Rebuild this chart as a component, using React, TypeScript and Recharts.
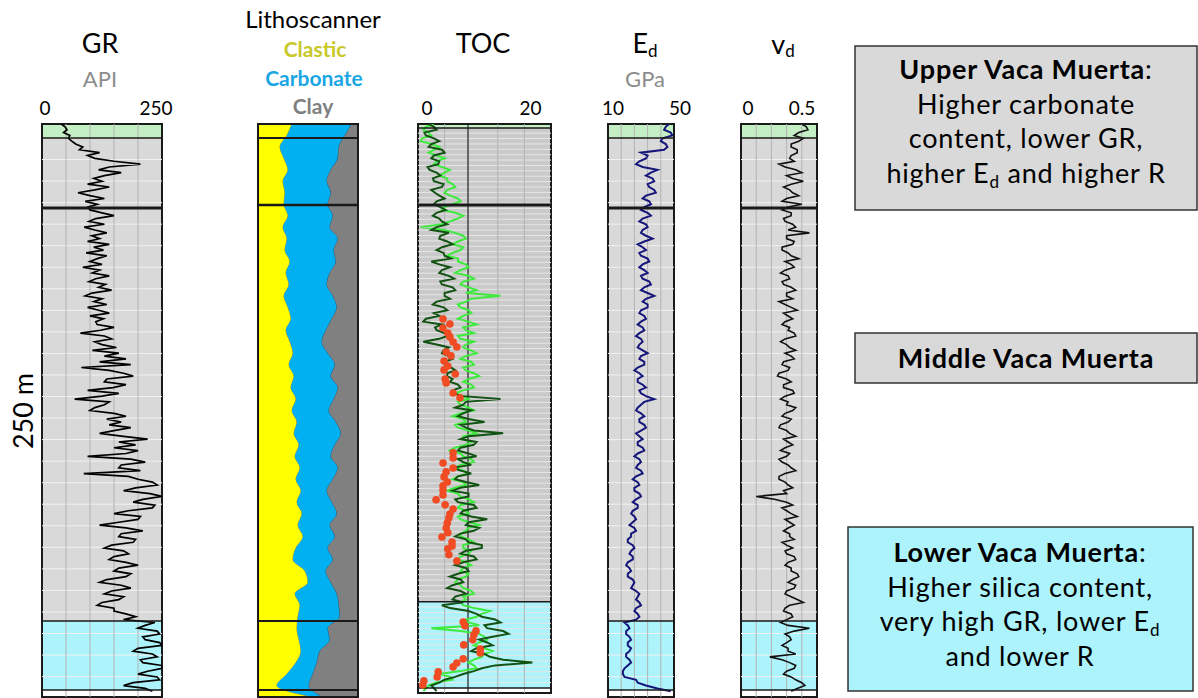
import React from 'react';
import {
  ComposedChart,
  Line,
  Area,
  XAxis,
  YAxis,
  ReferenceArea,
  ReferenceLine,
} from 'recharts';

const FONT = "Lato, 'Open Sans', sans-serif";

// log samples, depth in m below the top of the interval
const LOG_STEP = 1.25;
const LITHO_STEP = 5;

const GR_API = [
  40, 48, 52, 45, 58, 55, 62, 70, 85, 78,
  120, 95, 110, 150, 205, 140, 118, 165, 130, 108,
  125, 95, 140, 110, 75, 100, 130, 90, 115, 95,
  100, 125, 150, 112, 98, 130, 88, 110, 135, 104,
  120, 95, 140, 108, 128, 92, 135, 115, 100, 125,
  85, 120, 105, 140, 112, 98, 132, 118, 145, 104,
  90, 125, 108, 135, 95, 118, 140, 100, 128, 112,
  115, 150, 122, 80, 130, 145, 110, 125, 155, 105,
  160, 130, 175, 120, 185, 82, 140, 170, 190, 135,
  130, 175, 148, 95, 160, 125, 68, 140, 130, 110,
  100, 150, 175, 135, 165, 140, 185, 150, 120, 170,
  220, 160, 195, 150, 200, 175, 95, 185, 215, 165,
  160, 205, 87, 180, 200, 230, 240, 195, 170, 225,
  250, 210, 190, 235, 230, 180, 150, 205, 200, 160,
  120, 175, 210, 165, 160, 195, 190, 145, 130, 170,
  180, 150, 140, 175, 200, 160, 150, 185, 175, 135,
  120, 165, 185, 145, 130, 170, 160, 125, 115, 150,
  150, 175, 195, 170, 235, 215, 200, 240, 245, 210,
  215, 245, 250, 200, 190, 230, 240, 205, 210, 250,
  250, 220, 200, 240, 245, 190, 170, 215, 230,
];

// Lithoscanner fractions, %
const CLASTIC = [
  34, 29, 22, 26, 30, 25, 27, 26, 30, 25, 29, 27, 32, 28, 31, 26, 30, 33, 28, 32,
  35, 31, 36, 33, 38, 34, 39, 36, 41, 37, 42, 38, 43, 39, 44, 40, 45, 38, 35, 47,
  50, 37, 42, 40, 39, 41, 43, 38, 29, 19, 55,
];
const CARBONATE = [
  60, 58, 59, 54, 43, 44, 46, 44, 45, 47, 51, 49, 46, 44, 38, 49, 49, 41, 40, 32,
  35, 46, 37, 47, 38, 37, 39, 47, 36, 36, 38, 37, 26, 35, 35, 32, 32, 32, 40, 21,
  23, 42, 39, 42, 31, 31, 19, 21, 26, 32, 10,
];
const CLAY = [
  6, 13, 19, 20, 27, 31, 27, 30, 25, 28, 20, 24, 22, 28, 31, 25, 21, 26, 32, 36,
  30, 23, 27, 20, 24, 29, 22, 17, 23, 27, 20, 25, 31, 26, 21, 28, 23, 30, 25, 32,
  27, 21, 19, 18, 30, 28, 38, 41, 45, 49, 35,
];

// TOC, wt%
const TOC_DARK = [
  2.0, 3.0, 3.5, 1.2, 1.5, 3.0, 4.0, 2.5, 2.0, 4.5,
  5.0, 3.0, 2.5, 4.0, 3.8, 1.8, 2.2, 3.5, 4.2, 2.8,
  3.0, 4.8, 4.5, 2.5, 3.2, 4.0, 5.0, 3.5, 3.0, 4.2,
  5.2, 3.5, 2.8, 4.0, 4.5, 5.5, 3.5, 2.5, 5.8, 4.2,
  4.0, 5.5, 6.5, 4.5, 3.5, 4.8, 5.0, 6.2, 2.5, 4.0,
  6.0, 4.5, 4.0, 5.8, 6.8, 4.2, 4.5, 6.5, 7.0, 5.0,
  5.0, 6.0, 3.5, 2.8, 4.8, 5.5, 3.0, 4.0, 1.5, 1.0,
  4.5, 3.2, 3.5, 5.0, 5.5, 4.0, 1.0, 3.5, 5.8, 4.8,
  4.5, 5.8, 6.5, 5.0, 5.0, 6.2, 7.0, 5.5, 5.5, 6.5,
  6.0, 7.5, 8.0, 6.5, 6.5, 8.5, 15.5, 9.0, 8.5, 7.0,
  10.0, 8.5, 7.5, 9.5, 12.5, 8.0, 9.0, 10.5, 16.0, 9.5,
  8.0, 11.0, 10.5, 8.0, 7.5, 9.5, 11.0, 7.5, 8.5, 10.0,
  6.5, 8.0, 10.0, 7.5, 7.0, 9.0, 11.5, 8.0, 6.5, 9.5,
  9.5, 7.0, 7.5, 10.5, 11.0, 8.5, 8.0, 10.0, 13.0, 9.5,
  9.0, 11.5, 10.5, 8.0, 7.0, 9.0, 9.5, 12.0, 12.0, 9.0,
  8.0, 10.5, 11.0, 8.5, 7.0, 9.0, 9.5, 7.5, 6.0, 8.0,
  8.5, 6.5, 5.5, 8.0, 9.0, 7.0, 6.5, 8.5, 4.5, 6.0,
  9.5, 11.0, 12.0, 14.5, 15.5, 12.5, 13.0, 16.0, 17.0, 14.0,
  11.5, 13.0, 14.0, 11.0, 10.0, 12.5, 13.5, 16.0, 21.5, 14.5,
  12.0, 10.5, 8.5, 7.0, 5.0, 4.0, 2.5, 3.0, 3.5,
];
const TOC_LIGHT = [
  3.0, 1.5, 1.0, 2.0, 2.5, 0.8, 0.5, 2.5, 4.0, 3.0,
  2.0, 3.5, 5.0, 3.5, 3.0, 4.5, 6.0, 5.0, 4.0, 5.5,
  5.5, 6.5, 7.0, 5.5, 5.0, 6.0, 7.5, 8.0, 6.5, 5.0,
  4.5, 7.0, 8.5, 7.5, 6.0, 4.5, 0.5, 5.0, 7.0, 8.5,
  9.0, 7.5, 6.5, 8.5, 8.0, 6.5, 5.5, 7.5, 7.5, 9.0,
  9.5, 8.0, 7.0, 9.5, 10.5, 8.5, 8.0, 9.5, 11.0, 9.0,
  15.5, 10.0, 9.0, 7.5, 8.0, 9.5, 10.0, 8.5, 7.5, 9.5,
  11.0, 8.5, 9.0, 10.5, 7.5, 8.0, 10.5, 9.0, 8.5, 10.0,
  11.0, 9.0, 8.0, 10.0, 10.5, 8.5, 9.0, 10.5, 11.5, 9.5,
  8.5, 10.0, 10.5, 8.5, 7.0, 8.5, 9.5, 7.5, 8.0, 9.5,
  10.5, 8.0, 6.5, 8.5, 9.0, 7.0, 7.5, 9.5, 11.0, 8.5,
  8.5, 10.0, 9.0, 7.0, 6.0, 8.0, 8.5, 10.0, 10.5, 8.0,
  7.0, 8.5, 9.5, 7.5, 6.5, 8.5, 9.0, 7.0, 5.5, 7.5,
  8.0, 9.5, 10.5, 8.0, 7.5, 9.0, 9.5, 7.5, 8.0, 9.5,
  11.5, 9.5, 9.0, 8.0, 8.0, 9.5, 10.5, 8.5, 8.5, 10.0,
  9.5, 8.0, 7.5, 9.0, 10.0, 8.5, 8.0, 9.5, 9.0, 7.5,
  7.0, 8.0, 8.5, 10.0, 10.5, 8.5, 9.0, 8.0, 8.5, 10.5,
  13.5, 12.0, 11.0, 9.0, 9.5, 11.5, 2.5, 8.0, 11.5, 12.5,
  13.0, 11.5, 10.5, 12.5, 14.0, 12.5, 12.0, 10.5, 9.5, 10.5,
  11.0, 8.0, 4.0, 6.0, 6.5, 3.5, 2.0, 1.5, 1.0,
];
const CORE_DEPTH = [
  85.1, 87.3, 89.0, 91.2, 92.9, 95.1, 97.3, 99.5, 101.2, 103.4, 105.6, 107.3, 109.1, 111.3,
  113.0, 117.4, 119.5, 143.5, 145.7, 147.9, 150.1, 151.8, 154.0, 156.2, 157.9, 159.7, 161.9,
  164.0, 166.2, 168.0, 170.2, 171.9, 174.1, 176.3, 178.4, 180.2, 182.4, 184.1, 185.4, 188.0,
  190.7, 217.3, 219.0, 221.2, 222.9, 225.1, 227.3, 229.1, 230.8, 233.4, 235.2, 236.9, 239.1,
  241.3, 243.0, 244.8,
];
const CORE_TOC = [
  4.7, 6.0, 4.7, 5.6, 6.0, 6.6, 7.3, 5.3, 6.2, 4.9, 5.6, 4.9, 7.0, 5.1,
  5.3, 6.6, 7.9, 6.6, 6.6, 4.7, 6.6, 5.3, 4.9, 5.5, 4.7, 4.7, 4.7,
  3.4, 5.1, 6.6, 6.0, 5.8, 5.5, 5.3, 5.6, 4.5, 6.4, 6.4, 5.6, 5.8,
  7.3, 8.5, 8.8, 10.9, 10.5, 10.3, 8.6, 11.7, 11.7, 8.5, 7.3, 6.6, 3.8,
  3.6, 1.1, 0.9,
];
const TOC_CUTOFF = 9.4;

// dynamic Young's modulus, GPa
const ED_GPA = [
  47, 45, 44, 48, 49, 43, 42, 45, 46, 44,
  30, 34, 33, 29, 27, 31, 40, 36, 33, 37,
  38, 34, 35, 38, 39, 33, 31, 35, 36, 32,
  30, 34, 36, 31, 29, 33, 34, 31, 30, 33,
  37, 32, 28, 31, 33, 29, 30, 34, 35, 31,
  29, 32, 34, 30, 31, 35, 36, 32, 30, 34,
  38, 33, 31, 34, 34, 30, 29, 32, 33, 30,
  28, 31, 32, 29, 27, 30, 31, 29, 28, 31,
  34, 30, 29, 32, 32, 28, 26, 29, 31, 28,
  28, 31, 33, 29, 30, 33, 38, 32, 30, 28,
  27, 30, 32, 29, 29, 32, 33, 30, 27, 29,
  31, 28, 28, 31, 32, 28, 26, 29, 30, 28,
  27, 30, 31, 27, 25, 28, 29, 26, 26, 29,
  30, 27, 25, 28, 28, 25, 24, 26, 27, 25,
  23, 26, 27, 24, 24, 22, 22, 25, 26, 24,
  23, 25, 25, 22, 21, 23, 24, 22, 22, 25,
  26, 25, 24, 27, 29, 28, 27, 29, 30, 27,
  26, 28, 29, 27, 20, 22, 23, 21, 21, 23,
  24, 22, 22, 24, 23, 21, 21, 23, 24, 22,
  20, 19, 19, 20, 27, 28, 33, 40, 48,
];

// dynamic Poisson's ratio
const VD = [
  0.40, 0.43, 0.44, 0.38, 0.35, 0.41, 0.38, 0.33, 0.33, 0.37,
  0.37, 0.33, 0.32, 0.35, 0.25, 0.29, 0.36, 0.40, 0.30, 0.34,
  0.41, 0.33, 0.28, 0.32, 0.34, 0.38, 0.30, 0.27, 0.40, 0.31,
  0.27, 0.33, 0.33, 0.28, 0.29, 0.34, 0.36, 0.31, 0.45, 0.30,
  0.30, 0.35, 0.34, 0.27, 0.27, 0.31, 0.33, 0.38, 0.29, 0.33,
  0.35, 0.29, 0.26, 0.31, 0.32, 0.27, 0.28, 0.33, 0.36, 0.30,
  0.30, 0.34, 0.25, 0.29, 0.33, 0.37, 0.28, 0.31, 0.34, 0.29,
  0.27, 0.32, 0.31, 0.35, 0.36, 0.29, 0.26, 0.30, 0.32, 0.36,
  0.29, 0.33, 0.35, 0.28, 0.27, 0.32, 0.31, 0.25, 0.24, 0.30,
  0.33, 0.28, 0.28, 0.34, 0.35, 0.29, 0.26, 0.31, 0.30, 0.36,
  0.34, 0.29, 0.27, 0.33, 0.31, 0.26, 0.25, 0.30, 0.32, 0.36,
  0.28, 0.31, 0.34, 0.29, 0.26, 0.32, 0.30, 0.25, 0.27, 0.31,
  0.33, 0.36, 0.29, 0.25, 0.25, 0.29, 0.31, 0.34, 0.28, 0.30,
  0.10, 0.22, 0.30, 0.34, 0.27, 0.30, 0.33, 0.37, 0.29, 0.32,
  0.35, 0.31, 0.28, 0.32, 0.32, 0.35, 0.27, 0.30, 0.34, 0.29,
  0.30, 0.35, 0.36, 0.31, 0.29, 0.33, 0.33, 0.37, 0.38, 0.34,
  0.31, 0.36, 0.35, 0.30, 0.29, 0.33, 0.37, 0.41, 0.32, 0.29,
  0.28, 0.33, 0.34, 0.30, 0.26, 0.31, 0.45, 0.35, 0.29, 0.32,
  0.33, 0.30, 0.27, 0.31, 0.31, 0.36, 0.19, 0.27, 0.32, 0.36,
  0.35, 0.30, 0.28, 0.33, 0.36, 0.40, 0.42, 0.37, 0.33,
];

// zone tops (m)
const BAND_BASE = 6.1;
const UPPER_BASE = 36.6;
const LOWER_TOP = 216.8;
const LOG_BASE = 246.9;
const TRACK_END = 250;
const TOC_BAND_BASE = 1.7;
const TOC_UPPER_BASE = 35.3;
const TOC_LOWER_TOP = 208.5;
const TOC_LOG_BASE = 246.1;
const TOC_END = 248.3;

const GREEN = '#c4efc4';
const GRAY = '#d9d9d9';
const CYAN = '#acf3fb';

const samples = (vals: number[], step: number) => vals.map((v, i) => ({ d: i * step, v }));

const AXIS_H = 34;
const TRACK_TOP = 124;
const SIDE = 22;

type Zone = { from: number; to: number; fill: string };
type Rule = { d: number; w: number };

interface TrackProps {
  left: number;
  width: number;
  height: number;
  depthMax: number;
  domain: [number, number];
  ticks?: number[];
  tickDx?: number[];
  grid?: number[];
  rows?: number[];
  rowColor?: string;
  zones?: Zone[];
  rules: Rule[];
  data?: any[];
  children: React.ReactNode;
}

const Track = ({
  left, width, height, depthMax, domain, ticks = [], tickDx = [], grid = [], rows = [],
  rowColor = '#f2f2f2', zones = [], rules, data, children,
}: TrackProps) => (
  <div style={{ position: 'absolute', left: left - SIDE, top: TRACK_TOP - AXIS_H }}>
    <ComposedChart
      layout="vertical"
      width={width + 2 * SIDE}
      height={height + AXIS_H + 2}
      data={data}
      margin={{ top: 0, right: SIDE, bottom: 2, left: SIDE }}
    >
      <XAxis
        type="number"
        orientation="top"
        domain={domain}
        ticks={ticks}
        interval={0}
        height={AXIS_H}
        axisLine={false}
        tickLine={false}
        allowDataOverflow
        tick={ticks.length ? (p: any) => (
          <text
            x={p.x + (tickDx[p.index] ?? 0)}
            y={AXIS_H - 9}
            textAnchor="middle"
            fontSize={19}
            fontFamily={FONT}
            fill="#000"
          >
            {p.payload.value}
          </text>
        ) : false}
      />
      <YAxis type="number" dataKey="d" domain={[0, depthMax]} hide allowDataOverflow />
      {zones.map((z) => (
        <ReferenceArea key={`z${z.from}`} y1={z.from} y2={z.to} fill={z.fill} fillOpacity={1} stroke="none" />
      ))}
      {rows.map((r) => (
        <ReferenceLine key={`r${r}`} y={r} stroke={rowColor} strokeWidth={1} />
      ))}
      {grid.map((g) => (
        <ReferenceLine key={`g${g}`} x={g} stroke="#b3b3b3" strokeWidth={1} />
      ))}
      {children}
      {rules.map((r) => (
        <ReferenceLine key={`k${r.d}`} y={r.d} stroke="#1a1a1a" strokeWidth={r.w} />
      ))}
      <ReferenceArea
        x1={domain[0]}
        x2={domain[1]}
        y1={0}
        y2={depthMax}
        fill="none"
        stroke="#1a1a1a"
        strokeWidth={2}
      />
    </ComposedChart>
  </div>
);

const stdZones: Zone[] = [
  { from: 0, to: BAND_BASE, fill: GREEN },
  { from: BAND_BASE, to: LOWER_TOP, fill: GRAY },
  { from: LOWER_TOP, to: LOG_BASE, fill: CYAN },
  { from: LOG_BASE, to: TRACK_END, fill: '#ffffff' },
];
const stdRules: Rule[] = [
  { d: BAND_BASE, w: 1.5 },
  { d: UPPER_BASE, w: 3 },
  { d: LOWER_TOP, w: 1.5 },
  { d: LOG_BASE, w: 1.5 },
];
const stdRows: number[] = [];
for (let d = BAND_BASE + 9.4; d < LOG_BASE - 2; d += 9.4) stdRows.push(+d.toFixed(1));
const tocRows: number[] = [];
for (let d = 4; d < TOC_LOG_BASE - 1; d += 2.35) tocRows.push(+d.toFixed(2));

const grData = samples(GR_API, LOG_STEP);
const tocDark = samples(TOC_DARK, LOG_STEP);
const tocLight = samples(TOC_LIGHT, LOG_STEP);
const coreData = CORE_DEPTH.map((d, i) => ({ d, v: CORE_TOC[i] }));
const edData = samples(ED_GPA, LOG_STEP);
const vdData = samples(VD, LOG_STEP);
const lithoData = CLASTIC.map((c, i) => ({
  d: i * LITHO_STEP,
  clastic: c,
  carbonate: CARBONATE[i],
  clay: CLAY[i],
}));

const Box = ({ x, y, w, h, fill }: { x: number; y: number; w: number; h: number; fill: string }) => (
  <rect x={x} y={y} width={w} height={h} fill={fill} stroke="#333" strokeWidth={1.5} />
);

export default function App() {
  return (
    <div
      style={{
        position: 'absolute',
        left: 0,
        top: 0,
        width: 1198,
        height: 698,
        background: '#fff',
        overflow: 'hidden',
        fontFamily: FONT,
      }}
    >
      <svg width={1198} height={698} style={{ position: 'absolute', left: 0, top: 0 }} fontFamily={FONT}>
        <text x={100} y={53} fontSize={27} textAnchor="middle">GR</text>
        <text x={100} y={87} fontSize={22} textAnchor="middle" fill="#8c8c8c">API</text>

        <text x={313} y={28} fontSize={24} textAnchor="middle">Lithoscanner</text>
        <text x={315} y={57} fontSize={21} fontWeight={700} textAnchor="middle" fill="#c8c828">Clastic</text>
        <text x={314} y={86} fontSize={21} fontWeight={700} textAnchor="middle" fill="#1ba6e4">Carbonate</text>
        <text x={313} y={114} fontSize={21} fontWeight={700} textAnchor="middle" fill="#808080">Clay</text>

        <text x={483} y={53} fontSize={27} textAnchor="middle">TOC</text>

        <text x={645} y={53} fontSize={27} textAnchor="middle">
          E<tspan fontSize={17} dy={4}>d</tspan>
        </text>
        <text x={645} y={87} fontSize={22} textAnchor="middle" fill="#8c8c8c">GPa</text>

        <text x={783} y={54} fontSize={27} textAnchor="middle">
          v<tspan fontSize={17} dy={3}>d</tspan>
        </text>

        <text transform="translate(33,411) rotate(-90)" fontSize={27} textAnchor="middle">250 m</text>

        <Box x={855} y={46} w={342} h={164} fill={GRAY} />
        <g fontSize={27} letterSpacing={0.8} textAnchor="middle">
          <text x={1026} y={79}>
            <tspan fontWeight={700}>Upper Vaca Muerta</tspan>:
          </text>
          <text x={1026} y={113.5}>Higher carbonate</text>
          <text x={1026} y={148}>content, lower GR,</text>
          <text x={1026} y={182.5}>
            higher E<tspan fontSize={17} dy={5}>d</tspan>
            <tspan dy={-5}> and higher R</tspan>
          </text>
        </g>

        <Box x={855} y={333} w={342} h={50} fill={GRAY} />
        <text x={1026} y={368} fontSize={27} letterSpacing={0.8} fontWeight={700} textAnchor="middle">
          Middle Vaca Muerta
        </text>

        <Box x={848} y={527} w={345} h={164} fill={CYAN} />
        <g fontSize={27} letterSpacing={0.8} textAnchor="middle">
          <text x={1020} y={562}>
            <tspan fontWeight={700}>Lower Vaca Muerta</tspan>:
          </text>
          <text x={1020} y={596.5}>Higher silica content,</text>
          <text x={1020} y={631}>
            very high GR, lower E<tspan fontSize={17} dy={5}>d</tspan>
          </text>
          <text x={1020} y={665.5}>and lower R</text>
        </g>
      </svg>

      {/* GR */}
      <Track
        left={42}
        width={120}
        height={573}
        depthMax={TRACK_END}
        domain={[0, 250]}
        ticks={[0, 250]}
        tickDx={[3, -6]}
        grid={[50, 100, 150, 200]}
        rows={stdRows}
        zones={stdZones}
        rules={stdRules}
      >
        <Line data={grData} dataKey="v" type="linear" stroke="#000" strokeWidth={1.7} dot={false} isAnimationActive={false} />
      </Track>

      {/* Lithoscanner */}
      <Track
        left={258}
        width={100}
        height={573}
        depthMax={TRACK_END}
        domain={[0, 100]}
        data={lithoData}
        rules={[
          { d: BAND_BASE, w: 2 },
          { d: 35.3, w: 2.5 },
          { d: LOWER_TOP, w: 2 },
          { d: LOG_BASE, w: 2 },
        ]}
      >
        <Area dataKey="clastic" stackId="l" type="monotone" fill="#ffff00" fillOpacity={1} stroke="#6d6d40" strokeWidth={0.8} isAnimationActive={false} />
        <Area dataKey="carbonate" stackId="l" type="monotone" fill="#00b0f0" fillOpacity={1} stroke="#2d4a66" strokeWidth={1} isAnimationActive={false} />
        <Area dataKey="clay" stackId="l" type="monotone" fill="#808080" fillOpacity={1} stroke="none" isAnimationActive={false} />
      </Track>

      {/* TOC */}
      <Track
        left={418}
        width={133}
        height={569}
        depthMax={TOC_END}
        domain={[0, 25]}
        ticks={[0, 20]}
        tickDx={[9, 6]}
        grid={[5, 15, 20]}
        rows={tocRows}
        rowColor="#e6e6e6"
        zones={[
          { from: 0, to: TOC_BAND_BASE, fill: GREEN },
          { from: TOC_BAND_BASE, to: TOC_LOWER_TOP, fill: '#cacaca' },
          { from: TOC_LOWER_TOP, to: TOC_LOG_BASE, fill: CYAN },
          { from: TOC_LOG_BASE, to: TOC_END, fill: '#ffffff' },
        ]}
        rules={[
          { d: TOC_BAND_BASE, w: 1.5 },
          { d: TOC_UPPER_BASE, w: 3 },
          { d: TOC_LOWER_TOP, w: 1.5 },
          { d: TOC_LOG_BASE, w: 1.5 },
        ]}
      >
        <ReferenceLine x={TOC_CUTOFF} stroke="#222" strokeWidth={1.2} />
        <Line data={tocLight} dataKey="v" type="linear" stroke="#3dea3d" strokeWidth={2} dot={false} isAnimationActive={false} />
        <Line data={tocDark} dataKey="v" type="linear" stroke="#125212" strokeWidth={2} dot={false} isAnimationActive={false} />
        <Line
          data={coreData}
          dataKey="v"
          stroke="none"
          dot={{ r: 3.8, fill: '#f04b23', stroke: 'none' }}
          isAnimationActive={false}
        />
      </Track>

      {/* Ed */}
      <Track
        left={608}
        width={66}
        height={573}
        depthMax={TRACK_END}
        domain={[10, 50]}
        ticks={[10, 50]}
        tickDx={[5, 6]}
        grid={[18, 26, 34, 42]}
        rows={stdRows}
        zones={stdZones}
        rules={stdRules}
      >
        <Line data={edData} dataKey="v" type="linear" stroke="#16167a" strokeWidth={2} dot={false} isAnimationActive={false} />
      </Track>

      {/* vd */}
      <Track
        left={741}
        width={76}
        height={573}
        depthMax={TRACK_END}
        domain={[0, 0.5]}
        ticks={[0, 0.5]}
        tickDx={[7, -15]}
        grid={[0.1, 0.2, 0.3, 0.4]}
        rows={stdRows}
        zones={stdZones}
        rules={stdRules}
      >
        <Line data={vdData} dataKey="v" type="linear" stroke="#111" strokeWidth={1.6} dot={false} isAnimationActive={false} />
      </Track>
    </div>
  );
}
